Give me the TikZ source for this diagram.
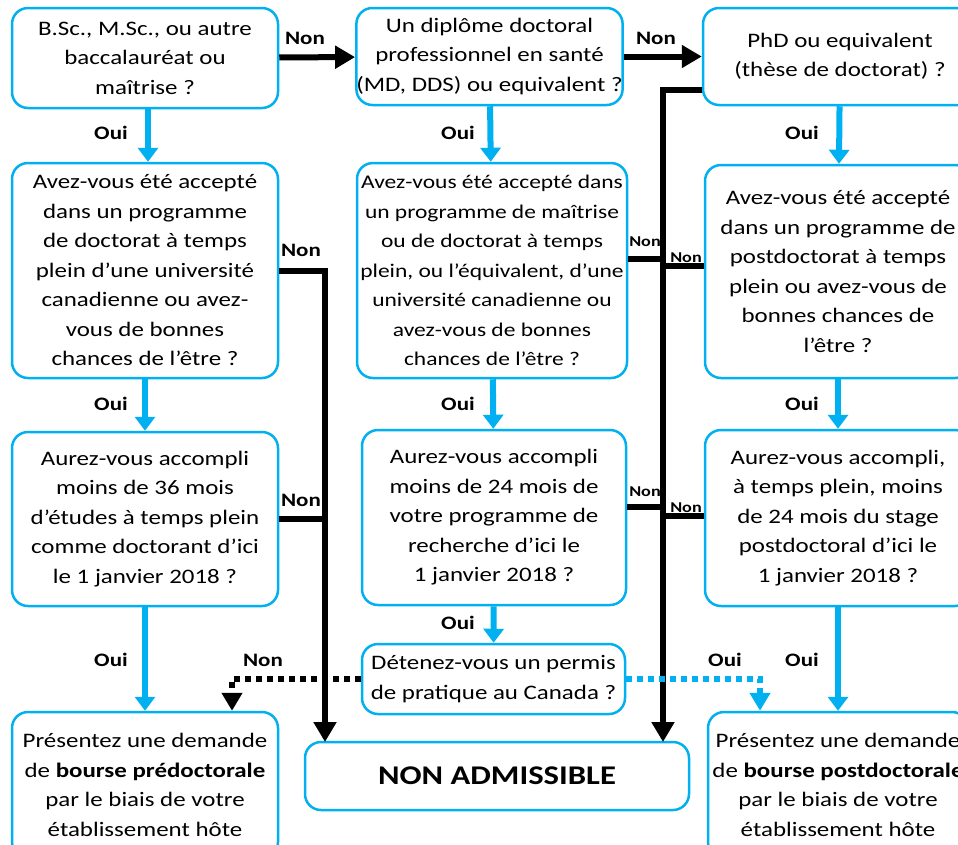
\documentclass[tikz,border=0pt]{standalone}
\usepackage{fontspec}
\setmainfont{Carlito}[FakeStretch=1.21]
\usetikzlibrary{arrows.meta,positioning,calc}
\definecolor{sky}{RGB}{0,176,240}

\begin{document}
\begin{tikzpicture}[x=1pt,y=-1pt,
        box/.style={draw=sky,line width=2.5pt,rounded corners=16pt,align=center,inner sep=0pt,
                    minimum width=266pt,font=\fontsize{20.6}{29.5}\selectfont},
        oui/.style={sky,line width=6pt,-{Triangle[width=20pt,length=14pt]}},
        non/.style={black,line width=6pt,-{Triangle[width=22pt,length=20pt]}},
        link/.style={black,line width=6pt},
        dots/.style={line width=6pt,dash pattern=on 6pt off 5pt,-{Triangle[width=20pt,length=18pt]}},
        lab/.style={font=\bfseries\fontsize{19}{21}\selectfont},
        tiny/.style={font=\bfseries\fontsize{15}{17}\selectfont}]
   \useasboundingbox (0,0) rectangle (958,844);
   \node[box,minimum height=100pt] (A1) at (145,58) {B.Sc., M.Sc., ou autre\\baccalauréat ou\\maîtrise ?};
   \node[box,minimum height=215pt] (A2) at (145,270.5) {Avez-vous été accepté\\dans un programme\\de doctorat à temps\\plein d’une université\\canadienne ou avez-\\vous de bonnes\\chances de l’être ?};
   \node[box,minimum height=174pt] (A3) at (145,519) {Aurez-vous accompli\\moins de 36 mois\\d’études à temps plein\\comme doctorant d’ici\\le 1 janvier 2018 ?};
   \node[box,minimum height=146pt,text depth=-11pt] (A4) at (145,785) {Présentez une demande\\de \textbf{bourse prédoctorale}\\par le biais de votre\\établissement hôte};
   \node[box,minimum height=97pt,minimum width=265pt] (B1) at (489.5,56.5) {Un diplôme doctoral\\professionnel en santé\\(MD, DDS) ou equivalent ?};
   \node[box,minimum height=215pt,minimum width=270pt,font=\fontsize{19.4}{29.5}\selectfont] (B2) at (492,270.5) {Avez-vous été accepté dans\\un programme de maîtrise\\ou de doctorat à temps\\plein, ou l’équivalent, d’une\\université canadienne ou\\avez-vous de bonnes\\chances de l’être ?};
   \node[box,minimum height=175pt,minimum width=264pt] (B3) at (494,517.5) {Aurez-vous accompli\\moins de 24 mois de\\votre programme de\\recherche d’ici le\\1 janvier 2018 ?};
   \node[box,minimum height=70pt,minimum width=263pt] (B4) at (493.5,679) {Détenez-vous un permis\\de pratique au Canada ?};
   \node[box,minimum height=68pt,minimum width=384pt,font=\bfseries\fontsize{27}{30}\selectfont] (NA) at (497,776) {NON ADMISSIBLE};
   \node[box,minimum height=97pt,minimum width=274pt] (C1) at (840,56.5) {PhD ou equivalent\\(thèse de doctorat) ?};
   \node[box,minimum height=213pt] (C2) at (838,271.5) {Avez-vous été accepté\\dans un programme de\\postdoctorat à temps\\plein ou avez-vous de\\bonnes chances de\\l’être ?};
   \node[box,minimum height=176pt] (C3) at (838,518) {Aurez-vous accompli,\\à temps plein, moins\\de 24 mois du stage\\postdoctoral d’ici le\\1 janvier 2018 ?};
   \node[box,minimum height=146pt,minimum width=260pt,text depth=-11pt] (C4) at (838,785) {Présentez une demande\\de \textbf{bourse postdoctorale}\\par le biais de votre\\établissement hôte};
   \coordinate (jl) at (325,742);
   \coordinate (jr) at (663,742);
   \draw[oui] (A1.south -| 148,0) -- (A2.north -| 148,0);
   \draw[oui] (A2) -- (A3);
   \draw[oui] (A3) -- (A4);
   \draw[oui] (B1) -- (B2);
   \draw[oui] (B2) -- (B3);
   \draw[oui] (B3) -- (B4);
   \draw[oui] (C1) -- (C2);
   \draw[oui] (C2) -- (C3);
   \draw[oui] (C3) -- (C4);
   \draw[non] (A1) -- (B1);
   \draw[non] (B1) -- (C1);
   \draw[non] (A2.east) -| (jl);
   \draw[link] (A3.east) -- (A3.east -| jl);
   \draw[non] ([yshift=-33pt]C1.west) -| (jr);
   \draw[link] ([yshift=12pt]B2.east) -- ([yshift=12pt]B2.east -| jr);
   \draw[link] ([yshift=6pt]C2.west) -- ([yshift=6pt]C2.west -| jr);
   \draw[link] ([yshift=11pt]B3.east) -- ([yshift=11pt]B3.east -| jr);
   \draw[link] ([yshift=2pt]C3.west) -- ([yshift=2pt]C3.west -| jr);
   \draw[dots,black] (B4.west) -| ([xshift=87pt]A4.north);
   \draw[dots,sky] (B4.east) -| ([xshift=-78pt]C4.north);
   \node[lab] (n1) at (305,38) {Non};
   \node[lab] (n2) at (656,38) {Non};
   \node[lab] (n3) at (301,250) {Non};
   \node[lab] (n4) at (301,500) {Non};
   \node[lab] (n5) at (263,660) {Non};
   \node[tiny] (n6) at (645,242) {Non};
   \node[tiny] (n7) at (686,258) {Non};
   \node[tiny] (n8) at (645,492) {Non};
   \node[tiny] (n9) at (686,508) {Non};
   \node[lab] (o1) at (111,133) {Oui};
   \node[lab] (o2) at (458,133) {Oui};
   \node[lab] (o3) at (802,133) {Oui};
   \node[lab] (o4) at (111,404) {Oui};
   \node[lab] (o5) at (458,404) {Oui};
   \node[lab] (o6) at (802,404) {Oui};
   \node[lab] (o7) at (111,660) {Oui};
   \node[lab] (o8) at (458,623) {Oui};
   \node[lab] (o9) at (802,660) {Oui};
   \node[lab] (o10) at (725,660) {Oui};
\end{tikzpicture}
\end{document}
